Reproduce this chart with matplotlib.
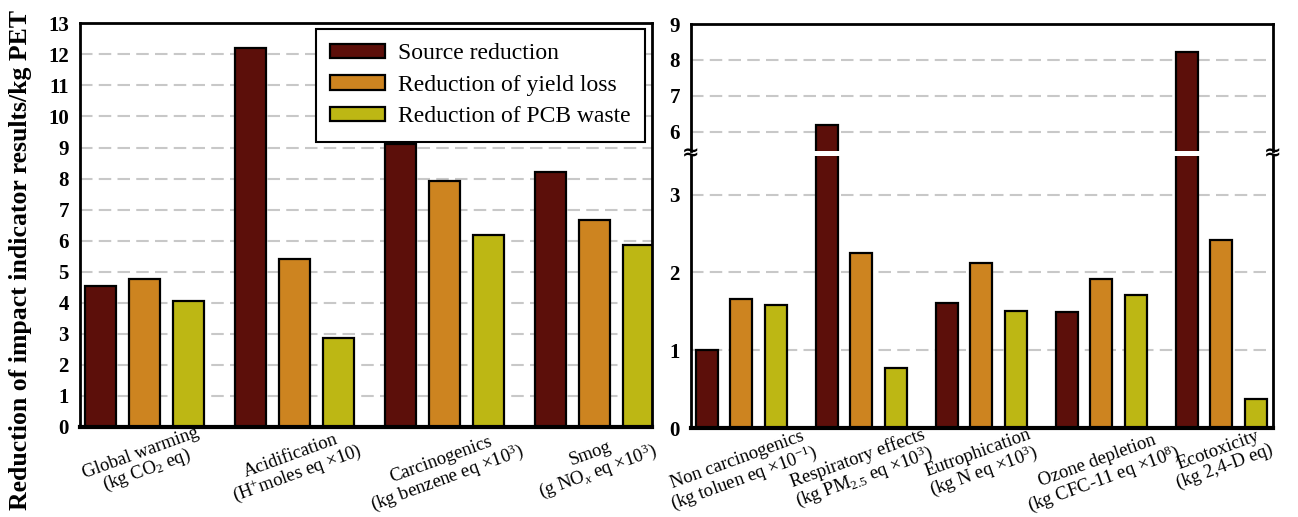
import matplotlib.pyplot as plt
import numpy as np

plt.rcParams['font.family'] = ['Liberation Serif', 'DejaVu Serif']
plt.rcParams['mathtext.fontset'] = 'custom'
plt.rcParams['mathtext.rm'] = 'Liberation Serif'
plt.rcParams['mathtext.it'] = 'Liberation Serif:italic'

series = ['Source reduction', 'Reduction of yield loss', 'Reduction of PCB waste']
colors = ['#5c0f0a', '#cd8420', '#bdb714']

left_cats = ['Global warming\n(kg CO$_2$ eq)',
             'Acidification\n(H$^{+}$moles eq $\\times$10)',
             'Carcinogenics\n(kg benzene eq $\\times$10$^{3}$)',
             'Smog\n(g NO$_x$ eq $\\times$10$^{3}$)']
left_source = [4.55, 12.2, 9.12, 8.22]
left_yield = [4.77, 5.4, 7.91, 6.67]
left_pcb = [4.07, 2.86, 6.17, 5.85]

right_cats = ['Non carcinogenics\n(kg toluen eq $\\times$10$^{-1}$)',
              'Respiratory effects\n(kg PM$_{2.5}$ eq $\\times$10$^{3}$)',
              'Eutrophication\n(kg N eq $\\times$10$^{3}$)',
              'Ozone depletion\n(kg CFC-11 eq $\\times$10$^{8}$)',
              'Ecotoxicity\n(kg 2,4-D eq)']
right_source = [1.0, 6.19, 1.61, 1.49, 8.21]
right_yield = [1.66, 2.25, 2.12, 1.91, 2.42]
right_pcb = [1.58, 0.77, 1.51, 1.71, 0.37]

W, H = 1298, 517
fig = plt.figure(figsize=(W / 100, H / 100), dpi=100)


def px(x0, y0, x1, y1):
    # pixel box (top-left origin) -> figure fraction rect
    return [x0 / W, 1 - y1 / H, (x1 - x0) / W, (y1 - y0) / H]


def style(ax):
    for s in ax.spines.values():
        s.set_linewidth(2)
    ax.tick_params(axis='y', length=0, pad=8, labelsize=15)
    ax.tick_params(axis='x', length=0, pad=-2)
    for t in ax.get_yticklabels():
        t.set_fontweight('bold')
    ax.set_axisbelow(True)
    ax.yaxis.grid(True, color='#c8c8c8', linestyle=(0, (6, 3)), lw=1.5)


def draw_bars(ax, vals, width, step):
    x = np.arange(len(vals[0]))
    for k, (v, c, name) in enumerate(zip(vals, colors, series)):
        ax.bar(x + (k - 1) * step, v, width, color=c, edgecolor='black',
               linewidth=1.6, label=name)
    return x


def xlabels(ax, x, cats):
    ax.set_xticks(x)
    ax.set_xticklabels(cats, rotation=20, ha='center', va='top',
                       multialignment='center', fontsize=13.5, linespacing=0.95)


# left panel
axl = fig.add_axes(px(80, 23.3, 652, 427))
xl = draw_bars(axl, [left_source, left_yield, left_pcb], 0.207, 0.293)
axl.set_xlim(-0.43, 3.383)
axl.set_ylim(0, 13)
axl.set_yticks(range(0, 14))
xlabels(axl, xl, left_cats)
style(axl)
axl.spines['bottom'].set_linewidth(3)
leg = axl.legend(loc='upper right', bbox_to_anchor=(0.988, 0.986), borderaxespad=0,
                 fancybox=False, edgecolor='black', framealpha=1, fontsize=17,
                 handlelength=2.33, handleheight=0.55, labelspacing=0.45,
                 handletextpad=0.55, borderpad=0.6)
leg.get_frame().set_linewidth(1.5)

# right panel with broken axis
axt = fig.add_axes(px(691, 24, 1273, 151.4))
axb = fig.add_axes(px(691, 155.7, 1273, 428))
for ax in (axt, axb):
    xr = draw_bars(ax, [right_source, right_yield, right_pcb], 0.183, 0.2875)
    ax.set_xlim(-0.42, 4.43)
    style(ax)
axt.set_ylim(5.45, 9)
axt.set_yticks([6, 7, 8, 9])
axt.set_xticks([])
axt.spines['bottom'].set_visible(False)
axb.set_ylim(0, 3.5)
axb.set_yticks([0, 1, 2, 3])
axb.spines['top'].set_visible(False)
axb.spines['bottom'].set_linewidth(3)
xlabels(axb, xr, right_cats)

# break marks on the spines
pb, pt = axb.get_position(), axt.get_position()
ymid = (pb.y1 + pt.y0) / 2
for xm in (pb.x0, pb.x1):
    fig.text(xm, ymid, '\u2248', ha='center', va='center', fontsize=15,
             fontweight='bold', family='DejaVu Sans')

fig.text(0.016, 0.497, 'Reduction of impact indicator results/kg PET',
         rotation=90, ha='center', va='center', fontsize=18.5, fontweight='bold')

fig.savefig('out.png', dpi=100)
